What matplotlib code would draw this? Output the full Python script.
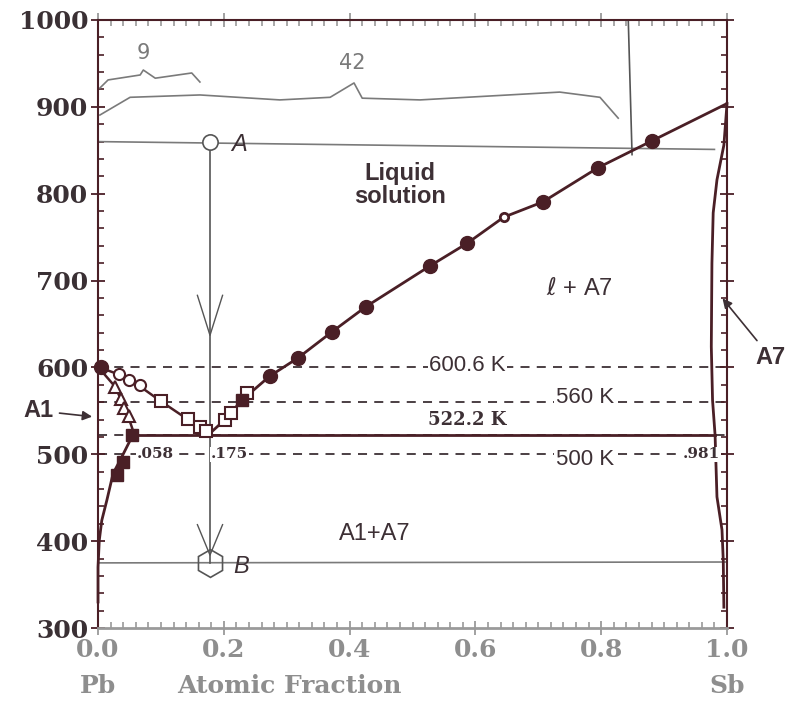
import matplotlib
matplotlib.use('Agg')
import matplotlib.pyplot as plt
import numpy as np
from matplotlib.ticker import MultipleLocator

# ---- data ----
# Sb-rich liquidus (eutectic -> Sb melting point)
liq_sb_x = [0.175, 0.202, 0.229, 0.273, 0.318, 0.372, 0.426, 0.528, 0.587, 0.645, 0.707, 0.795, 0.881, 1.0]
liq_sb_T = [522.2, 540, 562.5, 590, 611, 641, 670, 717, 743, 773, 790.5, 830, 861, 903.8]
circ_x = [0.273, 0.318, 0.372, 0.426, 0.528, 0.587, 0.707, 0.795, 0.881]
circ_T = [590, 611, 641, 670, 717, 743, 790.5, 830, 861]
small_open_x = [0.645]
small_open_T = [773]
sq_open_sb_x = [0.202, 0.212, 0.237]
sq_open_sb_T = [539.5, 548, 570.6]
sq_fill_sb_x = [0.229]
sq_fill_sb_T = [562.5]

# Pb-rich liquidus
liq_pb_x = [0.0, 0.033, 0.067, 0.100, 0.143, 0.175]
liq_pb_T = [600.6, 592, 578, 561, 540, 522.2]
circ_open_pb_x = [0.033, 0.05, 0.067]
circ_open_pb_T = [592, 586, 580]
sq_open_pb_x = [0.10, 0.143, 0.162, 0.172]
sq_open_pb_T = [561, 541, 532, 527]

# Pb-rich solidus and solvus (A1)
sol_pb_x = [0.0, 0.027, 0.045, 0.058]
sol_pb_T = [600.6, 578, 550, 522.2]
tri_x = [0.027, 0.036, 0.042, 0.049]
tri_T = [578, 564, 553, 544]
solv_pb_x = [0.058, 0.051, 0.035, 0.024, 0.014, 0.006, 0.002, 0.0, 0.0]
solv_pb_T = [522.2, 516, 493, 478, 447, 424, 401, 370, 330]
sq_fill_pb_x = [0.054, 0.040, 0.030]
sq_fill_pb_T = [522, 491, 476]

# Sb-rich solidus / solvus (A7)
sol_sb_x = [1.0, 0.995, 0.984, 0.978, 0.976, 0.975, 0.977, 0.981, 0.984, 0.992, 0.994, 0.995]
sol_sb_T = [903.8, 856, 816, 778, 720, 624, 562, 522.2, 451, 413, 378, 324]

# isotherms and eutectic
T_melt_pb = 600.6
T_iso = [600.6, 560, 500]
T_eut = 522.2
x_eut = [0.058, 0.981]

# hand-drawn additions
path_x = [0.178, 0.178]
path_T = [860, 375]
lineA_x = [0.0, 0.98]
lineA_T = [860, 851]
lineB_x = [0.0, 1.0]
lineB_T = [375, 376]
vline_x = [0.843, 0.849]
vline_T = [1000, 845]
brace9_x = [0.003, 0.016, 0.067, 0.072, 0.091, 0.149, 0.162]
brace9_T = [921.7, 931, 936.7, 942.4, 933, 939, 928.6]
brace42_x = [0.003, 0.051, 0.162, 0.289, 0.369, 0.407, 0.420, 0.512, 0.734, 0.798, 0.827]
brace42_T = [890.6, 911, 913.7, 908, 911, 927.5, 910, 908, 917, 911, 887]

x_ticks = [0.0, 0.2, 0.4, 0.6, 0.8, 1.0]
x_ticklabels = ['0.0', '0.2', '0.4', '0.6', '0.8', '1.0']

dark = '#4a1f26'
txt = '#3d3035'
hand = '#7a7a7a'

fig = plt.figure(figsize=(7.95, 7.09), dpi=100)
ax = fig.add_axes([0.1233, 0.1142, 0.7912, 0.8576])
ax.set_xlim(0, 1)
ax.set_ylim(300, 1000)

# isotherms
for T in T_iso:
    ax.plot([0, 1], [T, T], color=txt, lw=1.3, ls=(0, (5, 4)), zorder=1)
ax.plot([0, 1], [T_eut, T_eut], color=txt, lw=1.3, ls=(0, (5, 4)), zorder=1)
ax.plot(x_eut, [T_eut, T_eut], color=dark, lw=2.0, zorder=2)

# phase boundaries
ax.plot(liq_sb_x, liq_sb_T, color=dark, lw=2.0, zorder=3)
ax.plot(liq_pb_x, liq_pb_T, color=dark, lw=1.8, zorder=3)
ax.plot(sol_pb_x, sol_pb_T, color=dark, lw=1.8, zorder=3)
ax.plot(solv_pb_x, solv_pb_T, color=dark, lw=2.0, zorder=3, clip_on=False)
ax.plot(sol_sb_x, sol_sb_T, color=dark, lw=2.0, zorder=3, clip_on=False)

# data markers
ax.plot(circ_x, circ_T, 'o', color=dark, ms=10, zorder=4)
ax.plot(small_open_x, small_open_T, 'o', mfc='white', mec=dark, mew=2, ms=6, zorder=4)
ax.plot(sq_open_sb_x, sq_open_sb_T, 's', mfc='white', mec=dark, mew=1.5, ms=8, zorder=4)
ax.plot(sq_fill_sb_x, sq_fill_sb_T, 's', color=dark, ms=8, zorder=4)
ax.plot(circ_open_pb_x, circ_open_pb_T, 'o', mfc='white', mec=dark, mew=1.5, ms=8, zorder=4)
ax.plot(sq_open_pb_x, sq_open_pb_T, 's', mfc='white', mec=dark, mew=1.5, ms=8, zorder=4)
ax.plot(tri_x, tri_T, '^', mfc='white', mec=dark, mew=1.5, ms=8, zorder=4)
ax.plot(sq_fill_pb_x, sq_fill_pb_T, 's', color=dark, ms=8, zorder=4)
ax.plot([0.005], [T_melt_pb], 'o', color=dark, ms=10, zorder=4, clip_on=False)

# hand-drawn path A -> B
ax.plot(lineA_x, lineA_T, color=hand, lw=1.2, zorder=2)
ax.plot(lineB_x, lineB_T, color=hand, lw=1.2, zorder=2)
ax.plot(vline_x, vline_T, color='#555555', lw=1.2, zorder=2)
ax.plot(path_x, path_T, color='#555555', lw=1.2, zorder=2)
for T_tip, T_top in [(637, 683), (384, 419)]:
    ax.plot([0.158, 0.178, 0.198], [T_top, T_tip, T_top], color='#555555', lw=1.0, zorder=2)
ax.plot([0.178], [860], 'o', mfc='white', mec='#555555', mew=1.2, ms=11, zorder=5)
ax.plot([0.178], [375], 'h', mfc='none', mec='#555555', mew=1.2, ms=20, zorder=5)
ax.text(0.212, 857, 'A', fontsize=17, style='italic', color=txt, va='center', family='Liberation Sans')
ax.text(0.215, 371, 'B', fontsize=17, style='italic', color=txt, va='center', family='Liberation Sans')
ax.plot(brace9_x, brace9_T, color=hand, lw=1.2, clip_on=False)
ax.plot(brace42_x, brace42_T, color=hand, lw=1.2, clip_on=False)
ax.text(0.072, 962, '9', fontsize=15, color=hand, ha='center', va='center', family='DejaVu Sans')
ax.text(0.404, 950, '42', fontsize=15, color=hand, ha='center', va='center', family='DejaVu Sans')

# region labels
ax.text(0.48, 810, 'Liquid\nsolution', fontsize=17, fontweight='bold', color=txt,
        ha='center', va='center', family='Liberation Sans', linespacing=1.05)
ax.text(0.766, 691, r'$\ell$ + A7', fontsize=17, color=txt, ha='center', va='center', family='Liberation Sans')
ax.text(0.44, 408, 'A1+A7', fontsize=17, color=txt, ha='center', va='center', family='Liberation Sans')

# isotherm labels
bg = dict(facecolor='white', edgecolor='none', pad=1)
ax.text(0.587, 602, '600.6 K', fontsize=16, color=txt, ha='center', va='center',
        family='Liberation Sans', bbox=bg)
ax.text(0.774, 565, '560 K', fontsize=16, color=txt, ha='center', va='center',
        family='Liberation Sans', bbox=bg)
ax.text(0.587, 540, '522.2 K', fontsize=13, fontweight='bold', color=txt, ha='center', va='center',
        family='DejaVu Serif')
ax.text(0.774, 494, '500 K', fontsize=16, color=txt, ha='center', va='center',
        family='Liberation Sans', bbox=bg)
for xx, s in [(0.062, '.058'), (0.18, '.175'), (0.93, '.981')]:
    ax.text(xx, 500, s, fontsize=11, fontweight='bold', color=txt, ha='left', va='center',
            family='DejaVu Serif', bbox=dict(facecolor='white', edgecolor='none', pad=0.5))

# A1 / A7 pointers
ax.annotate('A1', xy=(-0.005, 543), xytext=(-0.118, 550), fontsize=17, fontweight='bold',
            color=txt, family='Liberation Sans', va='center', annotation_clip=False,
            arrowprops=dict(arrowstyle='-|>', color=txt, lw=1.2, mutation_scale=14))
ax.annotate('A7', xy=(0.99, 682), xytext=(1.045, 612), fontsize=17, fontweight='bold',
            color=txt, family='Liberation Sans', va='center', annotation_clip=False,
            arrowprops=dict(arrowstyle='-|>', color=txt, lw=1.2, mutation_scale=14))

# axes styling
for side in ['left', 'top', 'right']:
    ax.spines[side].set_color(dark)
    ax.spines[side].set_linewidth(1.5)
ax.spines['bottom'].set_color('#9a9a9a')
ax.spines['bottom'].set_linewidth(2)

ax.set_xticks(x_ticks)
ax.set_xticklabels(x_ticklabels)
ax.xaxis.set_minor_locator(MultipleLocator(0.02))
ax.yaxis.set_major_locator(MultipleLocator(100))
ax.yaxis.set_minor_locator(MultipleLocator(20))
ax.tick_params(axis='y', which='major', direction='inout', length=10, width=1.3, color=dark,
               left=True, right=True, labelsize=18, labelcolor='#3a3034', pad=2)
ax.tick_params(axis='y', which='minor', direction='in', length=4, width=1.2, color=dark,
               left=True, right=True)
ax.tick_params(axis='x', which='major', direction='inout', length=10, width=1.3, color='#9a9a9a',
               top=True, bottom=True, labelsize=18, labelcolor='#8e8e8e', pad=2)
ax.tick_params(axis='x', which='minor', direction='in', length=4, width=1.2, color='#9a9a9a',
               top=True, bottom=True)
for lab in ax.get_xticklabels() + ax.get_yticklabels():
    lab.set_fontfamily('DejaVu Serif')
    lab.set_fontweight('bold')

# x axis captions
ax.text(0.0, -0.095, 'Pb', transform=ax.transAxes, fontsize=18, fontweight='bold',
        color='#8e8e8e', ha='center', va='center', family='DejaVu Serif')
ax.text(1.0, -0.095, 'Sb', transform=ax.transAxes, fontsize=18, fontweight='bold',
        color='#8e8e8e', ha='center', va='center', family='DejaVu Serif')
ax.text(0.305, -0.095, 'Atomic Fraction', transform=ax.transAxes, fontsize=18, fontweight='bold',
        color='#8e8e8e', ha='center', va='center', family='DejaVu Serif')

fig.savefig('out.png', dpi=100)
